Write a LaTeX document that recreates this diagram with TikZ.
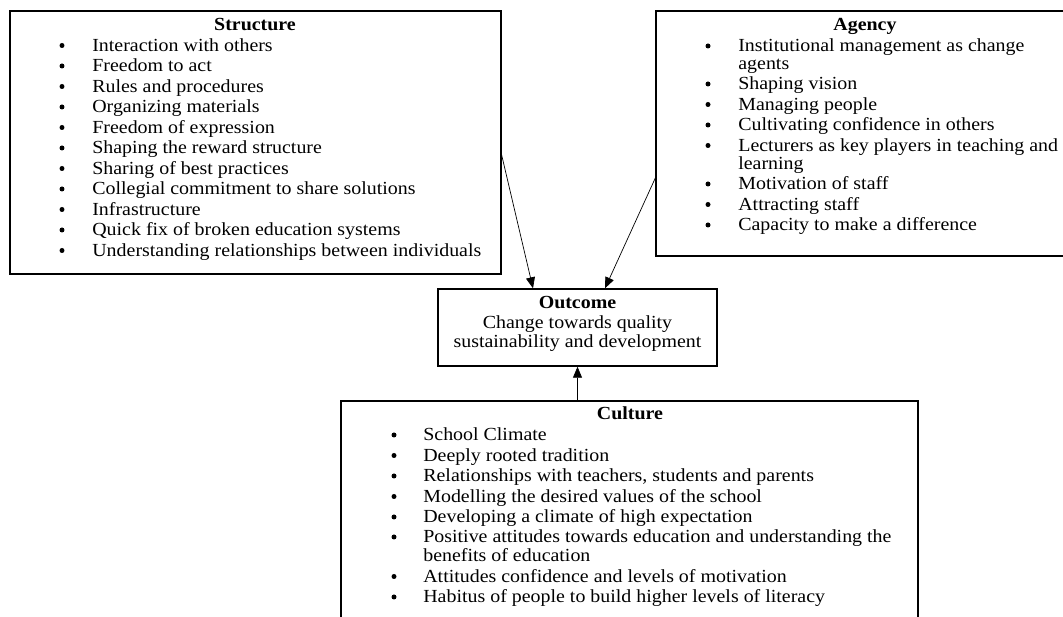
\documentclass[tikz,border=0pt]{standalone}
\usepackage{fontspec}
\setmainfont[FakeStretch=1.08]{Liberation Serif}
\usetikzlibrary{arrows.meta,positioning}
\tikzset{>={Triangle[length=2.2mm,width=1.8mm]},
  box/.style={draw,line width=0.8pt,inner sep=0pt},
  title/.style={anchor=base,inner sep=0pt,font=\bfseries\fontsize{10.5}{12}\selectfont},
  item/.style={anchor=base west,inner sep=0pt,font=\fontsize{10.5}{12}\selectfont},
  dot/.style={circle,fill,inner sep=0pt,minimum size=0.1cm,yshift=0.12cm}}

\begin{document}
\begin{tikzpicture}[x=0.02cm,y=-0.02cm]
        \useasboundingbox (0,0) rectangle (1063,617);
        \clip (0,0) rectangle (1063,617);

        % Structure
        \node (structure) [box, minimum width=9.82cm, minimum height=5.26cm] at (255.5,142.5) {};
        \node[title] at (255,31) {Structure};
        \node[dot] at (62,51.5) {}; \node[item] at (92,51.5) {Interaction with others};
        \node[dot] at (62,72) {}; \node[item] at (92,72) {Freedom to act};
        \node[dot] at (62,92.5) {}; \node[item] at (92,92.5) {Rules and procedures};
        \node[dot] at (62,113) {}; \node[item] at (92,113) {Organizing materials};
        \node[dot] at (62,133.5) {}; \node[item] at (92,133.5) {Freedom of expression};
        \node[dot] at (62,154) {}; \node[item] at (92,154) {Shaping the reward structure};
        \node[dot] at (62,174.5) {}; \node[item] at (92,174.5) {Sharing of best practices};
        \node[dot] at (62,195) {}; \node[item] at (92,195) {Collegial commitment to share solutions};
        \node[dot] at (62,215.5) {}; \node[item] at (92,215.5) {Infrastructure};
        \node[dot] at (62,236) {}; \node[item] at (92,236) {Quick fix of broken education systems};
        \node[dot] at (62,256.5) {}; \node[item] at (92,256.5) {Understanding relationships between individuals};

        % Agency
        \node (agency) [box, minimum width=8.48cm, minimum height=4.9cm] at (868,133.5) {};
        \node[title] at (865,31) {Agency};
        \node[dot] at (708,52) {}; \node[item] at (738,52) {Institutional management as change};
        \node[item] at (738,70) {agents};
        \node[dot] at (708,90) {}; \node[item] at (738,90) {Shaping vision};
        \node[dot] at (708,110.5) {}; \node[item] at (738,110.5) {Managing people};
        \node[dot] at (708,131) {}; \node[item] at (738,131) {Cultivating confidence in others};
        \node[dot] at (708,151.5) {}; \node[item] at (738,151.5) {Lecturers as key players in teaching and};
        \node[item] at (738,170) {learning};
        \node[dot] at (708,190) {}; \node[item] at (738,190) {Motivation of staff};
        \node[dot] at (708,210.5) {}; \node[item] at (738,210.5) {Attracting staff};
        \node[dot] at (708,231) {}; \node[item] at (738,231) {Capacity to make a difference};

        % Outcome
        \node (outcome) [box, minimum width=5.58cm, minimum height=1.54cm] at (577.5,327.5) {};
        \node[title] at (577.5,309) {Outcome};
        \node[title,font=\fontsize{10.5}{12}\selectfont] at (577.5,328.5) {Change towards quality};
        \node[title,font=\fontsize{10.5}{12}\selectfont] at (577.5,348) {sustainability and development};

        % Culture
        \node (culture) [box, minimum width=11.54cm, minimum height=4.9cm] at (629.5,523.5) {};
        \node[title] at (630,420) {Culture};
        \node[dot] at (394,441) {}; \node[item] at (423,441) {School Climate};
        \node[dot] at (394,461.5) {}; \node[item] at (423,461.5) {Deeply rooted tradition};
        \node[dot] at (394,482) {}; \node[item] at (423,482) {Relationships with teachers, students and parents};
        \node[dot] at (394,502.5) {}; \node[item] at (423,502.5) {Modelling the desired values of the school};
        \node[dot] at (394,523) {}; \node[item] at (423,523) {Developing a climate of high expectation};
        \node[dot] at (394,543) {}; \node[item] at (423,543) {Positive attitudes towards education and understanding the};
        \node[item] at (423,562) {benefits of education};
        \node[dot] at (394,582.5) {}; \node[item] at (423,582.5) {Attitudes confidence and levels of motivation};
        \node[dot] at (394,603) {}; \node[item] at (423,603) {Habitus of people to build higher levels of literacy};

        % arrows
        \draw[->] ([yshift=-0.25cm]structure.east) -- ([xshift=-0.89cm]outcome.north);
        \draw[->] ([yshift=-0.89cm]agency.west) -- ([xshift=0.55cm]outcome.north);
        \draw[->] (outcome.south |- culture.north) -- (outcome.south);
      \end{tikzpicture}
\end{document}
